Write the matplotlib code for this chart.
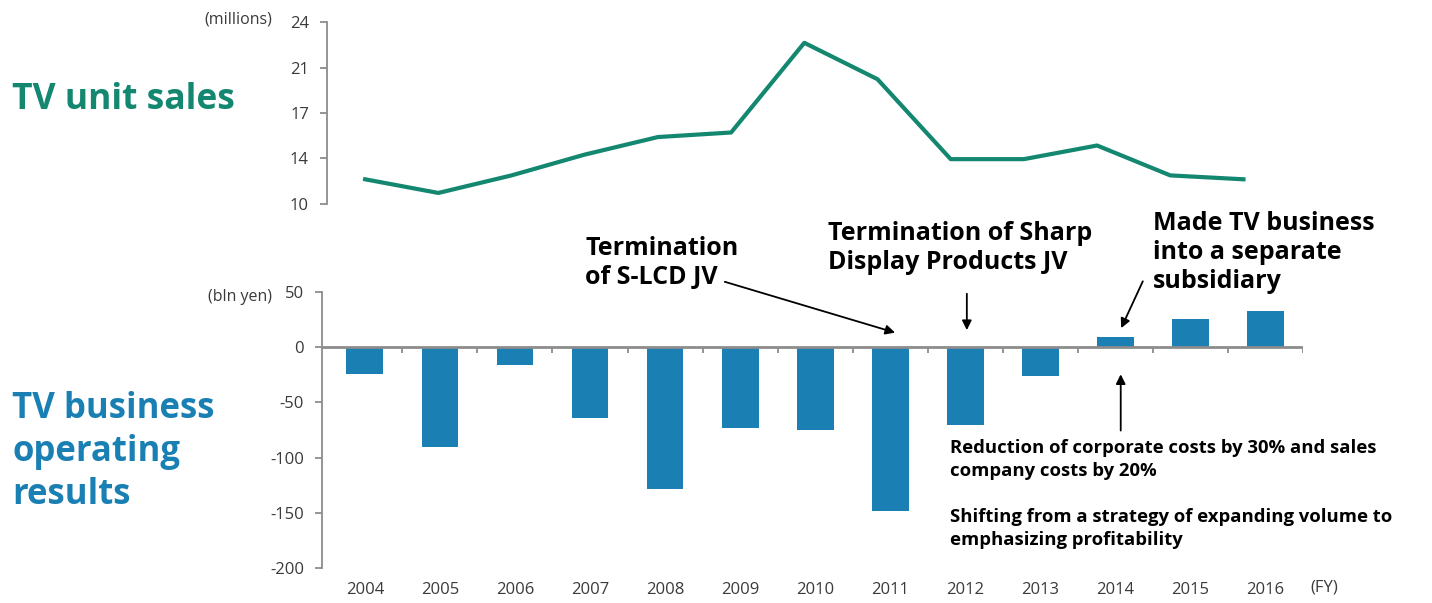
import matplotlib.pyplot as plt
import numpy as np

plt.rcParams['font.family'] = ['Open Sans', 'DejaVu Sans']

# Data
years = ['2004', '2005', '2006', '2007', '2008', '2009', '2010',
         '2011', '2012', '2013', '2014', '2015', '2016']
unit_sales = [11.9, 10.85, 12.2, 13.8, 15.15, 15.5, 22.4,
              19.6, 13.45, 13.45, 14.5, 12.2, 11.9]          # millions
op_results = [-24, -90, -16, -64, -128, -73, -75,
              -148, -70, -26, 9, 26, 33]                        # bln yen
sales_ticks = [10, 13.5, 17, 20.5, 24]
sales_tick_labels = ['10', '14', '17', '21', '24']
result_ticks = [50, 0, -50, -100, -150, -200]

teal = '#13876f'
blue = '#1a80b4'
grey = '#8c8c8c'
txt = '#3a3a3a'

x = np.arange(len(years))

fig = plt.figure(figsize=(14.32, 6.03), dpi=100)

# ---- top: unit sales line
ax1 = fig.add_axes([0.2284, 0.6617, 0.6655, 0.3018])
ax1.plot(x, unit_sales, color=teal, lw=3)
ax1.set_xlim(-0.52, 12.5)
ax1.set_ylim(10, 24)
ax1.set_yticks(sales_ticks)
ax1.set_yticklabels(sales_tick_labels)
for s in ['top', 'right', 'bottom']:
    ax1.spines[s].set_visible(False)
ax1.spines['left'].set_color(grey)
ax1.spines['left'].set_linewidth(1.3)
ax1.tick_params(axis='y', length=5, width=1.3, color=grey, labelsize=12,
                labelcolor=txt, pad=8)
ax1.set_xticks([])

# ---- bottom: operating results bars
ax2 = fig.add_axes([0.2249, 0.058, 0.6851, 0.4577])
ax2.bar(x, op_results, width=0.49, color=blue)
ax2.set_xlim(-0.57, 12.5)
ax2.set_ylim(-200, 50)
ax2.set_yticks(result_ticks)
ax2.set_yticklabels([str(v) for v in result_ticks])
for s in ['top', 'right', 'bottom']:
    ax2.spines[s].set_visible(False)
ax2.spines['left'].set_color(grey)
ax2.spines['left'].set_linewidth(1.3)
ax2.tick_params(axis='y', length=5, width=1.3, color=grey, labelsize=12,
                labelcolor=txt, pad=8)
ax2.axhline(0, color=grey, lw=2)
ax2.vlines(x + 0.5, -5, 0, color=grey, lw=1.3)
ax2.set_xticks(x)
ax2.set_xticklabels(years)
ax2.tick_params(axis='x', length=0, labelsize=12, labelcolor=txt, pad=10)

# unit labels
fig.text(272 / 1432, 1 - 20 / 603, '(millions)', ha='right', va='center',
         fontsize=11.5, color=txt)
fig.text(272 / 1432, 1 - 297 / 603, '(bln yen)', ha='right', va='center',
         fontsize=11.5, color=txt)
fig.text(1310 / 1432, 1 - 587 / 603, '(FY)', ha='left', va='center',
         fontsize=12, color=txt)

# section titles
fig.text(12 / 1432, 1 - 100 / 603, 'TV unit sales', ha='left', va='center',
         fontsize=25.5, fontweight='bold', color=teal)
fig.text(12 / 1432, 1 - 452 / 603, 'TV business\noperating\nresults',
         ha='left', va='center', fontsize=25, fontweight='bold', color=blue,
         linespacing=1.25)

# annotations
ann = dict(color='black', fontsize=18, fontweight='bold', ha='left',
           va='top', linespacing=1.22)
fig.text(585 / 1432, 1 - 236 / 603, 'Termination\nof S-LCD JV', **ann)
fig.text(828 / 1432, 1 - 221 / 603, 'Termination of Sharp\nDisplay Products JV', **ann)
fig.text(1153 / 1432, 1 - 211 / 603, 'Made TV business\ninto a separate\nsubsidiary', **ann)

small = dict(color='black', fontsize=13.3, fontweight='bold', ha='left',
             va='top', linespacing=1.35)
fig.text(950 / 1432, 1 - 439 / 603,
         'Reduction of corporate costs by 30% and sales\ncompany costs by 20%', **small)
fig.text(950 / 1432, 1 - 508 / 603,
         'Shifting from a strategy of expanding volume to\nemphasizing profitability', **small)

arrow = dict(arrowstyle='-|>', color='black', lw=1.3, mutation_scale=14)
ax2.annotate('', xy=(7.1, 12.5), xytext=(4.76, 60), arrowprops=arrow,
             annotation_clip=False)
ax2.annotate('', xy=(8.02, 13), xytext=(8.02, 51), arrowprops=arrow,
             annotation_clip=False)
ax2.annotate('', xy=(10.06, 15), xytext=(10.38, 62), arrowprops=arrow,
             annotation_clip=False)
ax2.annotate('', xy=(10.07, -22), xytext=(10.07, -78), arrowprops=arrow,
             annotation_clip=False)

fig.savefig('out.png', dpi=100)
